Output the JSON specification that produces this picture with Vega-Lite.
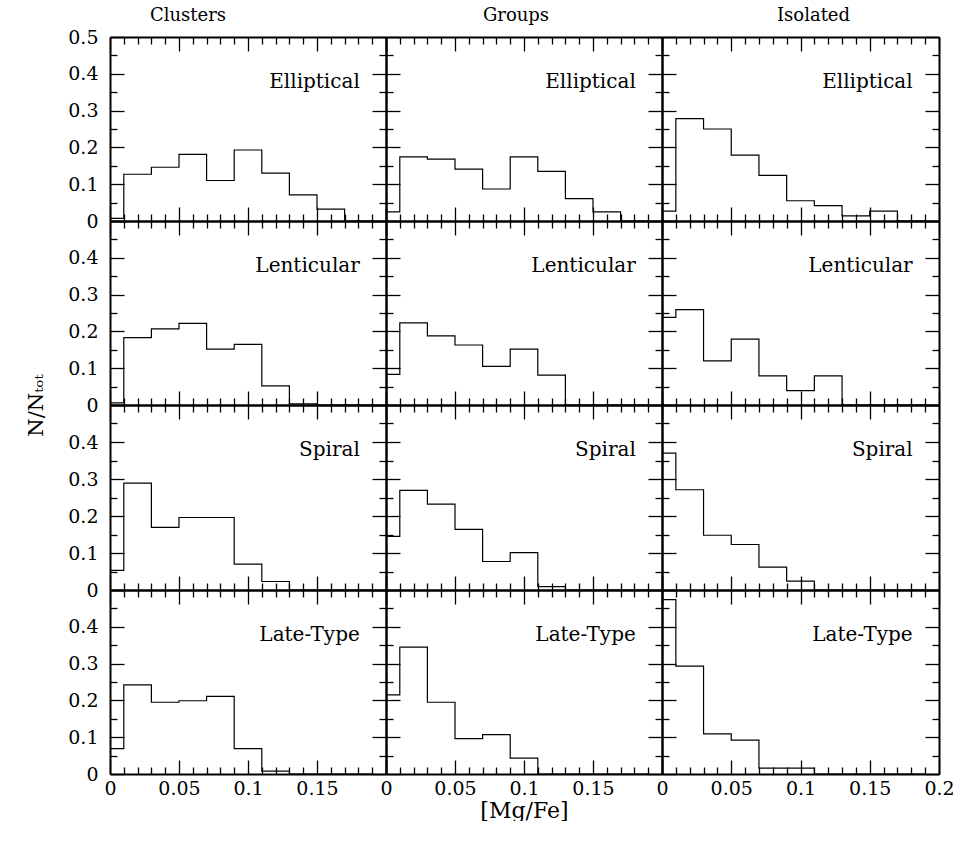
{
  "$schema": "https://vega.github.io/schema/vega-lite/v6.json",
  "padding": {"left": 25, "top": 7, "right": 0, "bottom": 0},
  "spacing": 0,
  "bounds": "flush",
  "columns": 3,
  "config": {
    "view": {"stroke": null},
    "axis": {"domainColor": "black", "domainWidth": 2, "tickColor": "black", "tickWidth": 1.3, "grid": false,
      "labelFont": "DejaVu Serif", "labelFontSize": 19, "labelColor": "black", "labelFlush": false, "labelOverlap": false,
      "titleFont": "DejaVu Serif", "titleColor": "black", "titleFontWeight": "normal"},
    "title": {"font": "DejaVu Serif", "fontSize": 18, "fontWeight": "normal", "color": "black", "offset": 11}
  },
  "data": {"values": [
    {"env":"Clusters","type":"Elliptical","x":0,"n":0.007},{"env":"Clusters","type":"Elliptical","x":0.01,"n":0.127},{"env":"Clusters","type":"Elliptical","x":0.03,"n":0.146},{"env":"Clusters","type":"Elliptical","x":0.05,"n":0.181},{"env":"Clusters","type":"Elliptical","x":0.07,"n":0.110},{"env":"Clusters","type":"Elliptical","x":0.09,"n":0.193},{"env":"Clusters","type":"Elliptical","x":0.11,"n":0.130},{"env":"Clusters","type":"Elliptical","x":0.13,"n":0.071},{"env":"Clusters","type":"Elliptical","x":0.15,"n":0.032},{"env":"Clusters","type":"Elliptical","x":0.17,"n":0},{"env":"Clusters","type":"Elliptical","x":0.19,"n":0},
    {"env":"Groups","type":"Elliptical","x":0,"n":0.025},{"env":"Groups","type":"Elliptical","x":0.01,"n":0.174},{"env":"Groups","type":"Elliptical","x":0.03,"n":0.168},{"env":"Groups","type":"Elliptical","x":0.05,"n":0.141},{"env":"Groups","type":"Elliptical","x":0.07,"n":0.087},{"env":"Groups","type":"Elliptical","x":0.09,"n":0.174},{"env":"Groups","type":"Elliptical","x":0.11,"n":0.135},{"env":"Groups","type":"Elliptical","x":0.13,"n":0.061},{"env":"Groups","type":"Elliptical","x":0.15,"n":0.025},{"env":"Groups","type":"Elliptical","x":0.17,"n":0},{"env":"Groups","type":"Elliptical","x":0.19,"n":0},
    {"env":"Isolated","type":"Elliptical","x":0,"n":0.027},{"env":"Isolated","type":"Elliptical","x":0.01,"n":0.278},{"env":"Isolated","type":"Elliptical","x":0.03,"n":0.250},{"env":"Isolated","type":"Elliptical","x":0.05,"n":0.179},{"env":"Isolated","type":"Elliptical","x":0.07,"n":0.124},{"env":"Isolated","type":"Elliptical","x":0.09,"n":0.055},{"env":"Isolated","type":"Elliptical","x":0.11,"n":0.042},{"env":"Isolated","type":"Elliptical","x":0.13,"n":0.014},{"env":"Isolated","type":"Elliptical","x":0.15,"n":0.027},{"env":"Isolated","type":"Elliptical","x":0.17,"n":0},{"env":"Isolated","type":"Elliptical","x":0.19,"n":0},
    {"env":"Clusters","type":"Lenticular","x":0,"n":0.006},{"env":"Clusters","type":"Lenticular","x":0.01,"n":0.183},{"env":"Clusters","type":"Lenticular","x":0.03,"n":0.207},{"env":"Clusters","type":"Lenticular","x":0.05,"n":0.222},{"env":"Clusters","type":"Lenticular","x":0.07,"n":0.152},{"env":"Clusters","type":"Lenticular","x":0.09,"n":0.165},{"env":"Clusters","type":"Lenticular","x":0.11,"n":0.052},{"env":"Clusters","type":"Lenticular","x":0.13,"n":0.003},{"env":"Clusters","type":"Lenticular","x":0.15,"n":0},{"env":"Clusters","type":"Lenticular","x":0.17,"n":0},{"env":"Clusters","type":"Lenticular","x":0.19,"n":0},
    {"env":"Groups","type":"Lenticular","x":0,"n":0.083},{"env":"Groups","type":"Lenticular","x":0.01,"n":0.223},{"env":"Groups","type":"Lenticular","x":0.03,"n":0.188},{"env":"Groups","type":"Lenticular","x":0.05,"n":0.163},{"env":"Groups","type":"Lenticular","x":0.07,"n":0.105},{"env":"Groups","type":"Lenticular","x":0.09,"n":0.152},{"env":"Groups","type":"Lenticular","x":0.11,"n":0.081},{"env":"Groups","type":"Lenticular","x":0.13,"n":0},{"env":"Groups","type":"Lenticular","x":0.15,"n":0},{"env":"Groups","type":"Lenticular","x":0.17,"n":0},{"env":"Groups","type":"Lenticular","x":0.19,"n":0},
    {"env":"Isolated","type":"Lenticular","x":0,"n":0.238},{"env":"Isolated","type":"Lenticular","x":0.01,"n":0.259},{"env":"Isolated","type":"Lenticular","x":0.03,"n":0.120},{"env":"Isolated","type":"Lenticular","x":0.05,"n":0.179},{"env":"Isolated","type":"Lenticular","x":0.07,"n":0.079},{"env":"Isolated","type":"Lenticular","x":0.09,"n":0.039},{"env":"Isolated","type":"Lenticular","x":0.11,"n":0.079},{"env":"Isolated","type":"Lenticular","x":0.13,"n":0},{"env":"Isolated","type":"Lenticular","x":0.15,"n":0},{"env":"Isolated","type":"Lenticular","x":0.17,"n":0},{"env":"Isolated","type":"Lenticular","x":0.19,"n":0},
    {"env":"Clusters","type":"Spiral","x":0,"n":0.053},{"env":"Clusters","type":"Spiral","x":0.01,"n":0.289},{"env":"Clusters","type":"Spiral","x":0.03,"n":0.169},{"env":"Clusters","type":"Spiral","x":0.05,"n":0.196},{"env":"Clusters","type":"Spiral","x":0.07,"n":0.196},{"env":"Clusters","type":"Spiral","x":0.09,"n":0.070},{"env":"Clusters","type":"Spiral","x":0.11,"n":0.023},{"env":"Clusters","type":"Spiral","x":0.13,"n":0},{"env":"Clusters","type":"Spiral","x":0.15,"n":0},{"env":"Clusters","type":"Spiral","x":0.17,"n":0},{"env":"Clusters","type":"Spiral","x":0.19,"n":0},
    {"env":"Groups","type":"Spiral","x":0,"n":0.145},{"env":"Groups","type":"Spiral","x":0.01,"n":0.269},{"env":"Groups","type":"Spiral","x":0.03,"n":0.232},{"env":"Groups","type":"Spiral","x":0.05,"n":0.164},{"env":"Groups","type":"Spiral","x":0.07,"n":0.077},{"env":"Groups","type":"Spiral","x":0.09,"n":0.101},{"env":"Groups","type":"Spiral","x":0.11,"n":0.009},{"env":"Groups","type":"Spiral","x":0.13,"n":0},{"env":"Groups","type":"Spiral","x":0.15,"n":0},{"env":"Groups","type":"Spiral","x":0.17,"n":0},{"env":"Groups","type":"Spiral","x":0.19,"n":0},
    {"env":"Isolated","type":"Spiral","x":0,"n":0.370},{"env":"Isolated","type":"Spiral","x":0.01,"n":0.271},{"env":"Isolated","type":"Spiral","x":0.03,"n":0.148},{"env":"Isolated","type":"Spiral","x":0.05,"n":0.123},{"env":"Isolated","type":"Spiral","x":0.07,"n":0.062},{"env":"Isolated","type":"Spiral","x":0.09,"n":0.024},{"env":"Isolated","type":"Spiral","x":0.11,"n":0},{"env":"Isolated","type":"Spiral","x":0.13,"n":0},{"env":"Isolated","type":"Spiral","x":0.15,"n":0},{"env":"Isolated","type":"Spiral","x":0.17,"n":0},{"env":"Isolated","type":"Spiral","x":0.19,"n":0},
    {"env":"Clusters","type":"Late-Type","x":0,"n":0.069},{"env":"Clusters","type":"Late-Type","x":0.01,"n":0.242},{"env":"Clusters","type":"Late-Type","x":0.03,"n":0.195},{"env":"Clusters","type":"Late-Type","x":0.05,"n":0.199},{"env":"Clusters","type":"Late-Type","x":0.07,"n":0.211},{"env":"Clusters","type":"Late-Type","x":0.09,"n":0.069},{"env":"Clusters","type":"Late-Type","x":0.11,"n":0.008},{"env":"Clusters","type":"Late-Type","x":0.13,"n":0},{"env":"Clusters","type":"Late-Type","x":0.15,"n":0},{"env":"Clusters","type":"Late-Type","x":0.17,"n":0},{"env":"Clusters","type":"Late-Type","x":0.19,"n":0},
    {"env":"Groups","type":"Late-Type","x":0,"n":0.215},{"env":"Groups","type":"Late-Type","x":0.01,"n":0.345},{"env":"Groups","type":"Late-Type","x":0.03,"n":0.195},{"env":"Groups","type":"Late-Type","x":0.05,"n":0.096},{"env":"Groups","type":"Late-Type","x":0.07,"n":0.107},{"env":"Groups","type":"Late-Type","x":0.09,"n":0.043},{"env":"Groups","type":"Late-Type","x":0.11,"n":0},{"env":"Groups","type":"Late-Type","x":0.13,"n":0},{"env":"Groups","type":"Late-Type","x":0.15,"n":0},{"env":"Groups","type":"Late-Type","x":0.17,"n":0},{"env":"Groups","type":"Late-Type","x":0.19,"n":0},
    {"env":"Isolated","type":"Late-Type","x":0,"n":0.474},{"env":"Isolated","type":"Late-Type","x":0.01,"n":0.293},{"env":"Isolated","type":"Late-Type","x":0.03,"n":0.109},{"env":"Isolated","type":"Late-Type","x":0.05,"n":0.092},{"env":"Isolated","type":"Late-Type","x":0.07,"n":0.016},{"env":"Isolated","type":"Late-Type","x":0.09,"n":0.016},{"env":"Isolated","type":"Late-Type","x":0.11,"n":0},{"env":"Isolated","type":"Late-Type","x":0.13,"n":0},{"env":"Isolated","type":"Late-Type","x":0.15,"n":0},{"env":"Isolated","type":"Late-Type","x":0.17,"n":0},{"env":"Isolated","type":"Late-Type","x":0.19,"n":0}
  ]},
  "concat": [
    {"width": 276, "height": 184, "title": {"text": "Clusters", "dx": -60, "dy": 8},
     "transform": [{"filter": "datum.env == 'Clusters' && datum.type == 'Elliptical'"}],
     "layer": [
      {"mark": {"type": "line", "interpolate": "step-after", "color": "black", "strokeWidth": 1.2},
       "encoding": {
        "x": {"field": "x", "type": "quantitative", "scale": {"domain": [0, 0.2], "nice": false, "zero": false}, "axis": {"orient": "bottom", "title": null, "labels": false, "values": [0,0.01,0.02,0.03,0.04,0.05,0.06,0.07,0.08,0.09,0.1,0.11,0.12,0.13,0.14,0.15,0.16,0.17,0.18,0.19,0.2], "tickSize": {"condition": {"test": "abs(datum.value*20-round(datum.value*20))<0.001", "value": -14}, "value": -7}}},
        "y": {"field": "n", "type": "quantitative", "scale": {"domain": [0, 0.5], "nice": false}, "axis": {"orient": "left", "title": null, "labelPadding": 26, "labelExpr": "abs(datum.value*10-round(datum.value*10))<0.001 ? format(datum.value, '~g') : ''", "values": [0,0.05,0.1,0.15,0.2,0.25,0.3,0.35,0.4,0.45,0.5], "tickSize": {"condition": {"test": "abs(datum.value*10-round(datum.value*10))<0.001", "value": -14}, "value": -7}}}}},
      {"mark": {"type": "line", "opacity": 0},
       "encoding": {
        "x": {"field": "x", "type": "quantitative", "axis": {"orient": "top", "title": null, "labels": false, "values": [0,0.01,0.02,0.03,0.04,0.05,0.06,0.07,0.08,0.09,0.1,0.11,0.12,0.13,0.14,0.15,0.16,0.17,0.18,0.19,0.2], "tickSize": {"condition": {"test": "abs(datum.value*20-round(datum.value*20))<0.001", "value": -14}, "value": -7}}},
        "y": {"field": "n", "type": "quantitative", "axis": {"orient": "right", "title": null, "labels": false, "values": [0,0.05,0.1,0.15,0.2,0.25,0.3,0.35,0.4,0.45,0.5], "tickSize": {"condition": {"test": "abs(datum.value*10-round(datum.value*10))<0.001", "value": -14}, "value": -7}}}}},
      {"transform": [{"filter": "datum.x == 0"}],
       "mark": {"type": "text", "align": "right", "baseline": "middle", "font": "DejaVu Serif", "fontSize": 20, "color": "black"},
       "encoding": {"x": {"datum": 0.181, "type": "quantitative", "axis": null}, "y": {"datum": 0.378, "type": "quantitative", "axis": null}, "text": {"field": "type"}}}
     ]},
    {"width": 276, "height": 184, "title": {"text": "Groups", "dx": -8},
     "transform": [{"filter": "datum.env == 'Groups' && datum.type == 'Elliptical'"}],
     "layer": [
      {"mark": {"type": "line", "interpolate": "step-after", "color": "black", "strokeWidth": 1.2},
       "encoding": {
        "x": {"field": "x", "type": "quantitative", "scale": {"domain": [0, 0.2], "nice": false, "zero": false}, "axis": {"orient": "bottom", "title": null, "labels": false, "values": [0,0.01,0.02,0.03,0.04,0.05,0.06,0.07,0.08,0.09,0.1,0.11,0.12,0.13,0.14,0.15,0.16,0.17,0.18,0.19,0.2], "tickSize": {"condition": {"test": "abs(datum.value*20-round(datum.value*20))<0.001", "value": -14}, "value": -7}}},
        "y": {"field": "n", "type": "quantitative", "scale": {"domain": [0, 0.5], "nice": false}, "axis": {"orient": "left", "title": null, "labels": false, "values": [0,0.05,0.1,0.15,0.2,0.25,0.3,0.35,0.4,0.45,0.5], "tickSize": {"condition": {"test": "abs(datum.value*10-round(datum.value*10))<0.001", "value": -14}, "value": -7}}}}},
      {"mark": {"type": "line", "opacity": 0},
       "encoding": {
        "x": {"field": "x", "type": "quantitative", "axis": {"orient": "top", "title": null, "labels": false, "values": [0,0.01,0.02,0.03,0.04,0.05,0.06,0.07,0.08,0.09,0.1,0.11,0.12,0.13,0.14,0.15,0.16,0.17,0.18,0.19,0.2], "tickSize": {"condition": {"test": "abs(datum.value*20-round(datum.value*20))<0.001", "value": -14}, "value": -7}}},
        "y": {"field": "n", "type": "quantitative", "axis": {"orient": "right", "title": null, "labels": false, "values": [0,0.05,0.1,0.15,0.2,0.25,0.3,0.35,0.4,0.45,0.5], "tickSize": {"condition": {"test": "abs(datum.value*10-round(datum.value*10))<0.001", "value": -14}, "value": -7}}}}},
      {"transform": [{"filter": "datum.x == 0"}],
       "mark": {"type": "text", "align": "right", "baseline": "middle", "font": "DejaVu Serif", "fontSize": 20, "color": "black"},
       "encoding": {"x": {"datum": 0.181, "type": "quantitative", "axis": null}, "y": {"datum": 0.378, "type": "quantitative", "axis": null}, "text": {"field": "type"}}}
     ]},
    {"width": 277, "height": 184, "title": {"text": "Isolated", "dx": 13},
     "transform": [{"filter": "datum.env == 'Isolated' && datum.type == 'Elliptical'"}],
     "layer": [
      {"mark": {"type": "line", "interpolate": "step-after", "color": "black", "strokeWidth": 1.2},
       "encoding": {
        "x": {"field": "x", "type": "quantitative", "scale": {"domain": [0, 0.2], "nice": false, "zero": false}, "axis": {"orient": "bottom", "title": null, "labels": false, "values": [0,0.01,0.02,0.03,0.04,0.05,0.06,0.07,0.08,0.09,0.1,0.11,0.12,0.13,0.14,0.15,0.16,0.17,0.18,0.19,0.2], "tickSize": {"condition": {"test": "abs(datum.value*20-round(datum.value*20))<0.001", "value": -14}, "value": -7}}},
        "y": {"field": "n", "type": "quantitative", "scale": {"domain": [0, 0.5], "nice": false}, "axis": {"orient": "left", "title": null, "labels": false, "values": [0,0.05,0.1,0.15,0.2,0.25,0.3,0.35,0.4,0.45,0.5], "tickSize": {"condition": {"test": "abs(datum.value*10-round(datum.value*10))<0.001", "value": -14}, "value": -7}}}}},
      {"mark": {"type": "line", "opacity": 0},
       "encoding": {
        "x": {"field": "x", "type": "quantitative", "axis": {"orient": "top", "title": null, "labels": false, "values": [0,0.01,0.02,0.03,0.04,0.05,0.06,0.07,0.08,0.09,0.1,0.11,0.12,0.13,0.14,0.15,0.16,0.17,0.18,0.19,0.2], "tickSize": {"condition": {"test": "abs(datum.value*20-round(datum.value*20))<0.001", "value": -14}, "value": -7}}},
        "y": {"field": "n", "type": "quantitative", "axis": {"orient": "right", "title": null, "labels": false, "values": [0,0.05,0.1,0.15,0.2,0.25,0.3,0.35,0.4,0.45,0.5], "tickSize": {"condition": {"test": "abs(datum.value*10-round(datum.value*10))<0.001", "value": -14}, "value": -7}}}}},
      {"transform": [{"filter": "datum.x == 0"}],
       "mark": {"type": "text", "align": "right", "baseline": "middle", "font": "DejaVu Serif", "fontSize": 20, "color": "black"},
       "encoding": {"x": {"datum": 0.181, "type": "quantitative", "axis": null}, "y": {"datum": 0.378, "type": "quantitative", "axis": null}, "text": {"field": "type"}}}
     ]},
    {"width": 276, "height": 184,
     "transform": [{"filter": "datum.env == 'Clusters' && datum.type == 'Lenticular'"}],
     "layer": [
      {"mark": {"type": "line", "interpolate": "step-after", "color": "black", "strokeWidth": 1.2},
       "encoding": {
        "x": {"field": "x", "type": "quantitative", "scale": {"domain": [0, 0.2], "nice": false, "zero": false}, "axis": {"orient": "bottom", "title": null, "labels": false, "values": [0,0.01,0.02,0.03,0.04,0.05,0.06,0.07,0.08,0.09,0.1,0.11,0.12,0.13,0.14,0.15,0.16,0.17,0.18,0.19,0.2], "tickSize": {"condition": {"test": "abs(datum.value*20-round(datum.value*20))<0.001", "value": -14}, "value": -7}}},
        "y": {"field": "n", "type": "quantitative", "scale": {"domain": [0, 0.5], "nice": false}, "axis": {"orient": "left", "title": "N/Nₜₒₜ", "titleFontSize": 21, "titleY": 184, "titleX": -74, "titleAlign": "center", "titleBaseline": "middle", "titleAngle": -90, "labelPadding": 26, "labelExpr": "abs(datum.value*10-round(datum.value*10))<0.001 && datum.value < 0.499 ? format(datum.value, '~g') : ''", "values": [0,0.05,0.1,0.15,0.2,0.25,0.3,0.35,0.4,0.45,0.5], "tickSize": {"condition": {"test": "abs(datum.value*10-round(datum.value*10))<0.001", "value": -14}, "value": -7}}}}},
      {"mark": {"type": "line", "opacity": 0},
       "encoding": {
        "x": {"field": "x", "type": "quantitative", "axis": {"orient": "top", "title": null, "labels": false, "values": [0,0.01,0.02,0.03,0.04,0.05,0.06,0.07,0.08,0.09,0.1,0.11,0.12,0.13,0.14,0.15,0.16,0.17,0.18,0.19,0.2], "tickSize": {"condition": {"test": "abs(datum.value*20-round(datum.value*20))<0.001", "value": -14}, "value": -7}}},
        "y": {"field": "n", "type": "quantitative", "axis": {"orient": "right", "title": null, "labels": false, "values": [0,0.05,0.1,0.15,0.2,0.25,0.3,0.35,0.4,0.45,0.5], "tickSize": {"condition": {"test": "abs(datum.value*10-round(datum.value*10))<0.001", "value": -14}, "value": -7}}}}},
      {"transform": [{"filter": "datum.x == 0"}],
       "mark": {"type": "text", "align": "right", "baseline": "middle", "font": "DejaVu Serif", "fontSize": 20, "color": "black"},
       "encoding": {"x": {"datum": 0.181, "type": "quantitative", "axis": null}, "y": {"datum": 0.378, "type": "quantitative", "axis": null}, "text": {"field": "type"}}}
     ]},
    {"width": 276, "height": 184,
     "transform": [{"filter": "datum.env == 'Groups' && datum.type == 'Lenticular'"}],
     "layer": [
      {"mark": {"type": "line", "interpolate": "step-after", "color": "black", "strokeWidth": 1.2},
       "encoding": {
        "x": {"field": "x", "type": "quantitative", "scale": {"domain": [0, 0.2], "nice": false, "zero": false}, "axis": {"orient": "bottom", "title": null, "labels": false, "values": [0,0.01,0.02,0.03,0.04,0.05,0.06,0.07,0.08,0.09,0.1,0.11,0.12,0.13,0.14,0.15,0.16,0.17,0.18,0.19,0.2], "tickSize": {"condition": {"test": "abs(datum.value*20-round(datum.value*20))<0.001", "value": -14}, "value": -7}}},
        "y": {"field": "n", "type": "quantitative", "scale": {"domain": [0, 0.5], "nice": false}, "axis": {"orient": "left", "title": null, "labels": false, "values": [0,0.05,0.1,0.15,0.2,0.25,0.3,0.35,0.4,0.45,0.5], "tickSize": {"condition": {"test": "abs(datum.value*10-round(datum.value*10))<0.001", "value": -14}, "value": -7}}}}},
      {"mark": {"type": "line", "opacity": 0},
       "encoding": {
        "x": {"field": "x", "type": "quantitative", "axis": {"orient": "top", "title": null, "labels": false, "values": [0,0.01,0.02,0.03,0.04,0.05,0.06,0.07,0.08,0.09,0.1,0.11,0.12,0.13,0.14,0.15,0.16,0.17,0.18,0.19,0.2], "tickSize": {"condition": {"test": "abs(datum.value*20-round(datum.value*20))<0.001", "value": -14}, "value": -7}}},
        "y": {"field": "n", "type": "quantitative", "axis": {"orient": "right", "title": null, "labels": false, "values": [0,0.05,0.1,0.15,0.2,0.25,0.3,0.35,0.4,0.45,0.5], "tickSize": {"condition": {"test": "abs(datum.value*10-round(datum.value*10))<0.001", "value": -14}, "value": -7}}}}},
      {"transform": [{"filter": "datum.x == 0"}],
       "mark": {"type": "text", "align": "right", "baseline": "middle", "font": "DejaVu Serif", "fontSize": 20, "color": "black"},
       "encoding": {"x": {"datum": 0.181, "type": "quantitative", "axis": null}, "y": {"datum": 0.378, "type": "quantitative", "axis": null}, "text": {"field": "type"}}}
     ]},
    {"width": 277, "height": 184,
     "transform": [{"filter": "datum.env == 'Isolated' && datum.type == 'Lenticular'"}],
     "layer": [
      {"mark": {"type": "line", "interpolate": "step-after", "color": "black", "strokeWidth": 1.2},
       "encoding": {
        "x": {"field": "x", "type": "quantitative", "scale": {"domain": [0, 0.2], "nice": false, "zero": false}, "axis": {"orient": "bottom", "title": null, "labels": false, "values": [0,0.01,0.02,0.03,0.04,0.05,0.06,0.07,0.08,0.09,0.1,0.11,0.12,0.13,0.14,0.15,0.16,0.17,0.18,0.19,0.2], "tickSize": {"condition": {"test": "abs(datum.value*20-round(datum.value*20))<0.001", "value": -14}, "value": -7}}},
        "y": {"field": "n", "type": "quantitative", "scale": {"domain": [0, 0.5], "nice": false}, "axis": {"orient": "left", "title": null, "labels": false, "values": [0,0.05,0.1,0.15,0.2,0.25,0.3,0.35,0.4,0.45,0.5], "tickSize": {"condition": {"test": "abs(datum.value*10-round(datum.value*10))<0.001", "value": -14}, "value": -7}}}}},
      {"mark": {"type": "line", "opacity": 0},
       "encoding": {
        "x": {"field": "x", "type": "quantitative", "axis": {"orient": "top", "title": null, "labels": false, "values": [0,0.01,0.02,0.03,0.04,0.05,0.06,0.07,0.08,0.09,0.1,0.11,0.12,0.13,0.14,0.15,0.16,0.17,0.18,0.19,0.2], "tickSize": {"condition": {"test": "abs(datum.value*20-round(datum.value*20))<0.001", "value": -14}, "value": -7}}},
        "y": {"field": "n", "type": "quantitative", "axis": {"orient": "right", "title": null, "labels": false, "values": [0,0.05,0.1,0.15,0.2,0.25,0.3,0.35,0.4,0.45,0.5], "tickSize": {"condition": {"test": "abs(datum.value*10-round(datum.value*10))<0.001", "value": -14}, "value": -7}}}}},
      {"transform": [{"filter": "datum.x == 0"}],
       "mark": {"type": "text", "align": "right", "baseline": "middle", "font": "DejaVu Serif", "fontSize": 20, "color": "black"},
       "encoding": {"x": {"datum": 0.181, "type": "quantitative", "axis": null}, "y": {"datum": 0.378, "type": "quantitative", "axis": null}, "text": {"field": "type"}}}
     ]},
    {"width": 276, "height": 185,
     "transform": [{"filter": "datum.env == 'Clusters' && datum.type == 'Spiral'"}],
     "layer": [
      {"mark": {"type": "line", "interpolate": "step-after", "color": "black", "strokeWidth": 1.2},
       "encoding": {
        "x": {"field": "x", "type": "quantitative", "scale": {"domain": [0, 0.2], "nice": false, "zero": false}, "axis": {"orient": "bottom", "title": null, "labels": false, "values": [0,0.01,0.02,0.03,0.04,0.05,0.06,0.07,0.08,0.09,0.1,0.11,0.12,0.13,0.14,0.15,0.16,0.17,0.18,0.19,0.2], "tickSize": {"condition": {"test": "abs(datum.value*20-round(datum.value*20))<0.001", "value": -14}, "value": -7}}},
        "y": {"field": "n", "type": "quantitative", "scale": {"domain": [0, 0.5], "nice": false}, "axis": {"orient": "left", "title": null, "labelPadding": 26, "labelExpr": "abs(datum.value*10-round(datum.value*10))<0.001 && datum.value < 0.499 ? format(datum.value, '~g') : ''", "values": [0,0.05,0.1,0.15,0.2,0.25,0.3,0.35,0.4,0.45,0.5], "tickSize": {"condition": {"test": "abs(datum.value*10-round(datum.value*10))<0.001", "value": -14}, "value": -7}}}}},
      {"mark": {"type": "line", "opacity": 0},
       "encoding": {
        "x": {"field": "x", "type": "quantitative", "axis": {"orient": "top", "title": null, "labels": false, "values": [0,0.01,0.02,0.03,0.04,0.05,0.06,0.07,0.08,0.09,0.1,0.11,0.12,0.13,0.14,0.15,0.16,0.17,0.18,0.19,0.2], "tickSize": {"condition": {"test": "abs(datum.value*20-round(datum.value*20))<0.001", "value": -14}, "value": -7}}},
        "y": {"field": "n", "type": "quantitative", "axis": {"orient": "right", "title": null, "labels": false, "values": [0,0.05,0.1,0.15,0.2,0.25,0.3,0.35,0.4,0.45,0.5], "tickSize": {"condition": {"test": "abs(datum.value*10-round(datum.value*10))<0.001", "value": -14}, "value": -7}}}}},
      {"transform": [{"filter": "datum.x == 0"}],
       "mark": {"type": "text", "align": "right", "baseline": "middle", "font": "DejaVu Serif", "fontSize": 20, "color": "black"},
       "encoding": {"x": {"datum": 0.181, "type": "quantitative", "axis": null}, "y": {"datum": 0.378, "type": "quantitative", "axis": null}, "text": {"field": "type"}}}
     ]},
    {"width": 276, "height": 185,
     "transform": [{"filter": "datum.env == 'Groups' && datum.type == 'Spiral'"}],
     "layer": [
      {"mark": {"type": "line", "interpolate": "step-after", "color": "black", "strokeWidth": 1.2},
       "encoding": {
        "x": {"field": "x", "type": "quantitative", "scale": {"domain": [0, 0.2], "nice": false, "zero": false}, "axis": {"orient": "bottom", "title": null, "labels": false, "values": [0,0.01,0.02,0.03,0.04,0.05,0.06,0.07,0.08,0.09,0.1,0.11,0.12,0.13,0.14,0.15,0.16,0.17,0.18,0.19,0.2], "tickSize": {"condition": {"test": "abs(datum.value*20-round(datum.value*20))<0.001", "value": -14}, "value": -7}}},
        "y": {"field": "n", "type": "quantitative", "scale": {"domain": [0, 0.5], "nice": false}, "axis": {"orient": "left", "title": null, "labels": false, "values": [0,0.05,0.1,0.15,0.2,0.25,0.3,0.35,0.4,0.45,0.5], "tickSize": {"condition": {"test": "abs(datum.value*10-round(datum.value*10))<0.001", "value": -14}, "value": -7}}}}},
      {"mark": {"type": "line", "opacity": 0},
       "encoding": {
        "x": {"field": "x", "type": "quantitative", "axis": {"orient": "top", "title": null, "labels": false, "values": [0,0.01,0.02,0.03,0.04,0.05,0.06,0.07,0.08,0.09,0.1,0.11,0.12,0.13,0.14,0.15,0.16,0.17,0.18,0.19,0.2], "tickSize": {"condition": {"test": "abs(datum.value*20-round(datum.value*20))<0.001", "value": -14}, "value": -7}}},
        "y": {"field": "n", "type": "quantitative", "axis": {"orient": "right", "title": null, "labels": false, "values": [0,0.05,0.1,0.15,0.2,0.25,0.3,0.35,0.4,0.45,0.5], "tickSize": {"condition": {"test": "abs(datum.value*10-round(datum.value*10))<0.001", "value": -14}, "value": -7}}}}},
      {"transform": [{"filter": "datum.x == 0"}],
       "mark": {"type": "text", "align": "right", "baseline": "middle", "font": "DejaVu Serif", "fontSize": 20, "color": "black"},
       "encoding": {"x": {"datum": 0.181, "type": "quantitative", "axis": null}, "y": {"datum": 0.378, "type": "quantitative", "axis": null}, "text": {"field": "type"}}}
     ]},
    {"width": 277, "height": 185,
     "transform": [{"filter": "datum.env == 'Isolated' && datum.type == 'Spiral'"}],
     "layer": [
      {"mark": {"type": "line", "interpolate": "step-after", "color": "black", "strokeWidth": 1.2},
       "encoding": {
        "x": {"field": "x", "type": "quantitative", "scale": {"domain": [0, 0.2], "nice": false, "zero": false}, "axis": {"orient": "bottom", "title": null, "labels": false, "values": [0,0.01,0.02,0.03,0.04,0.05,0.06,0.07,0.08,0.09,0.1,0.11,0.12,0.13,0.14,0.15,0.16,0.17,0.18,0.19,0.2], "tickSize": {"condition": {"test": "abs(datum.value*20-round(datum.value*20))<0.001", "value": -14}, "value": -7}}},
        "y": {"field": "n", "type": "quantitative", "scale": {"domain": [0, 0.5], "nice": false}, "axis": {"orient": "left", "title": null, "labels": false, "values": [0,0.05,0.1,0.15,0.2,0.25,0.3,0.35,0.4,0.45,0.5], "tickSize": {"condition": {"test": "abs(datum.value*10-round(datum.value*10))<0.001", "value": -14}, "value": -7}}}}},
      {"mark": {"type": "line", "opacity": 0},
       "encoding": {
        "x": {"field": "x", "type": "quantitative", "axis": {"orient": "top", "title": null, "labels": false, "values": [0,0.01,0.02,0.03,0.04,0.05,0.06,0.07,0.08,0.09,0.1,0.11,0.12,0.13,0.14,0.15,0.16,0.17,0.18,0.19,0.2], "tickSize": {"condition": {"test": "abs(datum.value*20-round(datum.value*20))<0.001", "value": -14}, "value": -7}}},
        "y": {"field": "n", "type": "quantitative", "axis": {"orient": "right", "title": null, "labels": false, "values": [0,0.05,0.1,0.15,0.2,0.25,0.3,0.35,0.4,0.45,0.5], "tickSize": {"condition": {"test": "abs(datum.value*10-round(datum.value*10))<0.001", "value": -14}, "value": -7}}}}},
      {"transform": [{"filter": "datum.x == 0"}],
       "mark": {"type": "text", "align": "right", "baseline": "middle", "font": "DejaVu Serif", "fontSize": 20, "color": "black"},
       "encoding": {"x": {"datum": 0.181, "type": "quantitative", "axis": null}, "y": {"datum": 0.378, "type": "quantitative", "axis": null}, "text": {"field": "type"}}}
     ]},
    {"width": 276, "height": 184,
     "transform": [{"filter": "datum.env == 'Clusters' && datum.type == 'Late-Type'"}],
     "layer": [
      {"mark": {"type": "line", "interpolate": "step-after", "color": "black", "strokeWidth": 1.2},
       "encoding": {
        "x": {"field": "x", "type": "quantitative", "scale": {"domain": [0, 0.2], "nice": false, "zero": false}, "axis": {"orient": "bottom", "title": null, "labelPadding": 19, "labelExpr": "abs(datum.value*20-round(datum.value*20))<0.001 && datum.value < 0.199 ? format(datum.value, '~g') : ''", "values": [0,0.01,0.02,0.03,0.04,0.05,0.06,0.07,0.08,0.09,0.1,0.11,0.12,0.13,0.14,0.15,0.16,0.17,0.18,0.19,0.2], "tickSize": {"condition": {"test": "abs(datum.value*20-round(datum.value*20))<0.001", "value": -14}, "value": -7}}},
        "y": {"field": "n", "type": "quantitative", "scale": {"domain": [0, 0.5], "nice": false}, "axis": {"orient": "left", "title": null, "labelPadding": 26, "labelExpr": "abs(datum.value*10-round(datum.value*10))<0.001 && datum.value < 0.499 ? format(datum.value, '~g') : ''", "values": [0,0.05,0.1,0.15,0.2,0.25,0.3,0.35,0.4,0.45,0.5], "tickSize": {"condition": {"test": "abs(datum.value*10-round(datum.value*10))<0.001", "value": -14}, "value": -7}}}}},
      {"mark": {"type": "line", "opacity": 0},
       "encoding": {
        "x": {"field": "x", "type": "quantitative", "axis": {"orient": "top", "title": null, "labels": false, "values": [0,0.01,0.02,0.03,0.04,0.05,0.06,0.07,0.08,0.09,0.1,0.11,0.12,0.13,0.14,0.15,0.16,0.17,0.18,0.19,0.2], "tickSize": {"condition": {"test": "abs(datum.value*20-round(datum.value*20))<0.001", "value": -14}, "value": -7}}},
        "y": {"field": "n", "type": "quantitative", "axis": {"orient": "right", "title": null, "labels": false, "values": [0,0.05,0.1,0.15,0.2,0.25,0.3,0.35,0.4,0.45,0.5], "tickSize": {"condition": {"test": "abs(datum.value*10-round(datum.value*10))<0.001", "value": -14}, "value": -7}}}}},
      {"transform": [{"filter": "datum.x == 0"}],
       "mark": {"type": "text", "align": "right", "baseline": "middle", "font": "DejaVu Serif", "fontSize": 20, "color": "black"},
       "encoding": {"x": {"datum": 0.181, "type": "quantitative", "axis": null}, "y": {"datum": 0.378, "type": "quantitative", "axis": null}, "text": {"field": "type"}}}
     ]},
    {"width": 276, "height": 184,
     "transform": [{"filter": "datum.env == 'Groups' && datum.type == 'Late-Type'"}],
     "layer": [
      {"mark": {"type": "line", "interpolate": "step-after", "color": "black", "strokeWidth": 1.2},
       "encoding": {
        "x": {"field": "x", "type": "quantitative", "scale": {"domain": [0, 0.2], "nice": false, "zero": false}, "axis": {"orient": "bottom", "title": "[Mg/Fe]", "titleFontSize": 22, "titleY": 36, "titleBaseline": "middle", "labelPadding": 19, "labelExpr": "abs(datum.value*20-round(datum.value*20))<0.001 && datum.value < 0.199 ? format(datum.value, '~g') : ''", "values": [0,0.01,0.02,0.03,0.04,0.05,0.06,0.07,0.08,0.09,0.1,0.11,0.12,0.13,0.14,0.15,0.16,0.17,0.18,0.19,0.2], "tickSize": {"condition": {"test": "abs(datum.value*20-round(datum.value*20))<0.001", "value": -14}, "value": -7}}},
        "y": {"field": "n", "type": "quantitative", "scale": {"domain": [0, 0.5], "nice": false}, "axis": {"orient": "left", "title": null, "labels": false, "values": [0,0.05,0.1,0.15,0.2,0.25,0.3,0.35,0.4,0.45,0.5], "tickSize": {"condition": {"test": "abs(datum.value*10-round(datum.value*10))<0.001", "value": -14}, "value": -7}}}}},
      {"mark": {"type": "line", "opacity": 0},
       "encoding": {
        "x": {"field": "x", "type": "quantitative", "axis": {"orient": "top", "title": null, "labels": false, "values": [0,0.01,0.02,0.03,0.04,0.05,0.06,0.07,0.08,0.09,0.1,0.11,0.12,0.13,0.14,0.15,0.16,0.17,0.18,0.19,0.2], "tickSize": {"condition": {"test": "abs(datum.value*20-round(datum.value*20))<0.001", "value": -14}, "value": -7}}},
        "y": {"field": "n", "type": "quantitative", "axis": {"orient": "right", "title": null, "labels": false, "values": [0,0.05,0.1,0.15,0.2,0.25,0.3,0.35,0.4,0.45,0.5], "tickSize": {"condition": {"test": "abs(datum.value*10-round(datum.value*10))<0.001", "value": -14}, "value": -7}}}}},
      {"transform": [{"filter": "datum.x == 0"}],
       "mark": {"type": "text", "align": "right", "baseline": "middle", "font": "DejaVu Serif", "fontSize": 20, "color": "black"},
       "encoding": {"x": {"datum": 0.181, "type": "quantitative", "axis": null}, "y": {"datum": 0.378, "type": "quantitative", "axis": null}, "text": {"field": "type"}}}
     ]},
    {"width": 277, "height": 184,
     "transform": [{"filter": "datum.env == 'Isolated' && datum.type == 'Late-Type'"}],
     "layer": [
      {"mark": {"type": "line", "interpolate": "step-after", "color": "black", "strokeWidth": 1.2},
       "encoding": {
        "x": {"field": "x", "type": "quantitative", "scale": {"domain": [0, 0.2], "nice": false, "zero": false}, "axis": {"orient": "bottom", "title": null, "labelPadding": 19, "labelExpr": "abs(datum.value*20-round(datum.value*20))<0.001 ? format(datum.value, '~g') : ''", "values": [0,0.01,0.02,0.03,0.04,0.05,0.06,0.07,0.08,0.09,0.1,0.11,0.12,0.13,0.14,0.15,0.16,0.17,0.18,0.19,0.2], "tickSize": {"condition": {"test": "abs(datum.value*20-round(datum.value*20))<0.001", "value": -14}, "value": -7}}},
        "y": {"field": "n", "type": "quantitative", "scale": {"domain": [0, 0.5], "nice": false}, "axis": {"orient": "left", "title": null, "labels": false, "values": [0,0.05,0.1,0.15,0.2,0.25,0.3,0.35,0.4,0.45,0.5], "tickSize": {"condition": {"test": "abs(datum.value*10-round(datum.value*10))<0.001", "value": -14}, "value": -7}}}}},
      {"mark": {"type": "line", "opacity": 0},
       "encoding": {
        "x": {"field": "x", "type": "quantitative", "axis": {"orient": "top", "title": null, "labels": false, "values": [0,0.01,0.02,0.03,0.04,0.05,0.06,0.07,0.08,0.09,0.1,0.11,0.12,0.13,0.14,0.15,0.16,0.17,0.18,0.19,0.2], "tickSize": {"condition": {"test": "abs(datum.value*20-round(datum.value*20))<0.001", "value": -14}, "value": -7}}},
        "y": {"field": "n", "type": "quantitative", "axis": {"orient": "right", "title": null, "labels": false, "values": [0,0.05,0.1,0.15,0.2,0.25,0.3,0.35,0.4,0.45,0.5], "tickSize": {"condition": {"test": "abs(datum.value*10-round(datum.value*10))<0.001", "value": -14}, "value": -7}}}}},
      {"transform": [{"filter": "datum.x == 0"}],
       "mark": {"type": "text", "align": "right", "baseline": "middle", "font": "DejaVu Serif", "fontSize": 20, "color": "black"},
       "encoding": {"x": {"datum": 0.181, "type": "quantitative", "axis": null}, "y": {"datum": 0.378, "type": "quantitative", "axis": null}, "text": {"field": "type"}}}
     ]}
  ]
}
